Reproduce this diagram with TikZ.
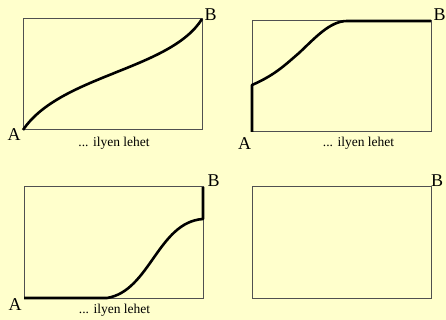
\documentclass[tikz,border=0pt]{standalone}
\usepackage{fontspec}
\setmainfont{Liberation Serif}
\definecolor{bgyellow}{HTML}{FFFFCC}
\definecolor{boxgray}{HTML}{505050}
\begin{document}
\begin{tikzpicture}[x=1pt,y=-1pt,
  frame/.style={draw=boxgray,line width=1pt},
  pathline/.style={draw=black,line width=2.6pt,line join=round},
  endlabel/.style={font=\fontsize{18}{18}\selectfont,inner sep=0pt,anchor=base},
  caption/.style={font=\fontsize{13.5}{14}\selectfont,inner sep=0pt,anchor=base}]
\fill[bgyellow] (0,0) rectangle (446,320);
\useasboundingbox (0,0) rectangle (446,320);
% box 1
\coordinate (a1) at (23,130);
\coordinate (b1) at (202,19);
\draw[frame] (a1) rectangle (b1);
\draw[pathline] (a1) .. controls (60,75) and (170,70) .. (b1);
\node[endlabel] (A1) at (14,141) {A};
\node[endlabel] (B1) at (210.5,21) {B};
\node[caption] (c1) at (114,146.5) {... ilyen lehet};
% box 2
\coordinate (a2) at (252,132);
\coordinate (b2) at (431,21);
\coordinate (p2) at (252,85);
\coordinate (m2) at (299,53);
\coordinate (q2) at (347,21);
\draw[frame] (a2) rectangle (b2);
\draw[pathline] (a2) -- (p2) .. controls (275,75) and (285,65) .. (m2)
  .. controls (315,38) and (330,21) .. (q2) -- (b2);
\node[endlabel] (A2) at (244.5,150) {A};
\node[endlabel] (B2) at (439.5,21) {B};
\node[caption] (c2) at (358.5,146.5) {... ilyen lehet};
% box 3
\coordinate (a3) at (24,298);
\coordinate (b3) at (203,187);
\coordinate (p3) at (107,298);
\coordinate (q3) at (203,219);
\draw[frame] (a3) rectangle (b3);
\draw[pathline] (a3) -- (p3) .. controls (150,291) and (158,222) .. (q3) -- (b3);
\node[endlabel] (A3) at (15,310.5) {A};
\node[endlabel] (B3) at (213.5,186.5) {B};
\node[caption] (c3) at (114.5,313.5) {... ilyen lehet};
% box 4
\coordinate (a4) at (252,298);
\coordinate (b4) at (431,187);
\draw[frame] (a4) rectangle (b4);
\node[endlabel] (B4) at (437,186) {B};
\end{tikzpicture}
\end{document}
